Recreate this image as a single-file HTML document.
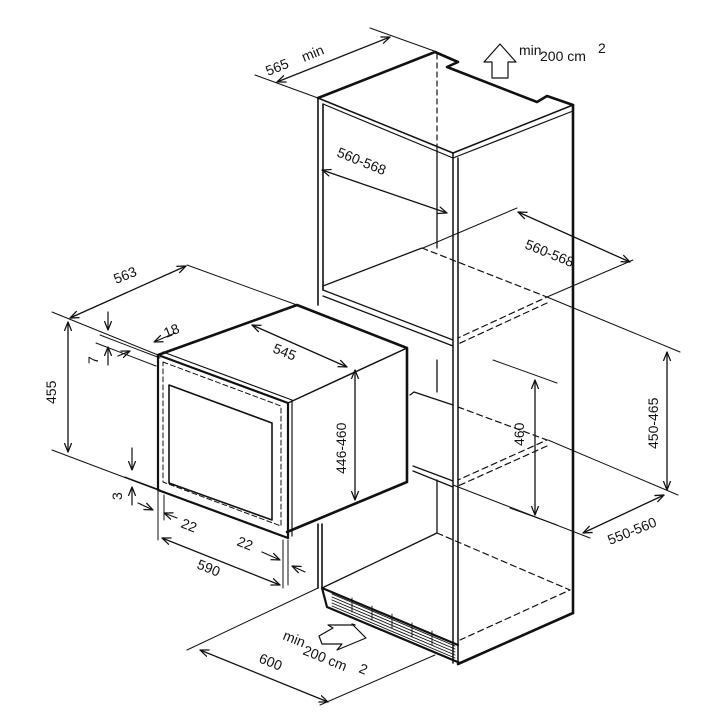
<!DOCTYPE html>
<html><head><meta charset="utf-8"><style>
html,body{margin:0;padding:0;background:#fff}
svg{display:block}
text{font-family:"Liberation Sans",sans-serif;font-size:14px;fill:#111}
</style></head><body>
<svg width="720" height="720" viewBox="0 0 720 720" xmlns="http://www.w3.org/2000/svg">
<defs>
<marker id="a" viewBox="0 0 10 10" refX="10" refY="5" markerWidth="9" markerHeight="9" orient="auto-start-reverse" markerUnits="userSpaceOnUse"><path d="M0,1 L10,5 L0,9" fill="none" stroke="#111" stroke-width="1.4"/></marker>
</defs>
<g fill="none" stroke="#111" stroke-linecap="round" stroke-linejoin="round">
<path d="M318,98 L435,52 L458,62 L447,67 L537,102 L547,96 L573,105" stroke-width="2.6"/>
<path d="M318,98 L453,153 L573,105" stroke-width="1.5"/>
<path d="M323,104 L453,158 L573,111" stroke-width="1.2"/>
<path d="M437,54 L437,150" stroke-width="1.2" stroke-dasharray="5,4"/>
<path d="M437,150 L437,248" stroke-width="1.3"/>
<path d="M318,98 L318,305 M323,104 L323,290" stroke-width="1.6"/>
<path d="M453,153 L453,663 M458,158 L458,663" stroke-width="1.5"/>
<path d="M573,105 L573,613" stroke-width="2.6"/>
<path d="M458,664 L573,613" stroke-width="2.6"/>
<path d="M323,286 L422,248" stroke-width="1.3"/>
<path d="M323,290 L453,340 M323,296 L453,346" stroke-width="1.3"/>
<path d="M422,248 L547,297 L458,338 M547,303 L458,344" stroke-width="1.2" stroke-dasharray="6,4"/>
<path d="M414,392 L453,405 M414,392 L410,395" stroke-width="1.3"/>
<path d="M458,407 L547,440 L458,480 M547,446 L458,486" stroke-width="1.2" stroke-dasharray="6,4"/>
<path d="M413,466 L453,481 M413,471 L453,487" stroke-width="1.3"/>
<path d="M437,360 L437,392 M437,480 L437,533" stroke-width="1.3"/>
<path d="M318,524 L318,588 M322,524 L322,588" stroke-width="1.6"/>
<path d="M322,588 L437,533" stroke-width="1.3"/>
<path d="M437,533 L570,590 L460,640" stroke-width="1.2" stroke-dasharray="6,4"/>
<path d="M322,588 L327,607 L460,663 M322,588 L458,645" stroke-width="2.2"/>
<path d="M332,594 L455,646 M332,597 L455,649 M332,600 L455,652 M332,603 L455,655 M332,606 L455,658" stroke-width="0.9"/>
<path d="M352,598 L352,612 M372,606 L372,620 M392,614 L392,628 M412,623 L412,637 M432,631 L432,645" stroke-width="0.9"/>
<path d="M158,355 L297,305 L407,348 L407,482 L287,532" stroke-width="2.6"/>
<path d="M288,403 L407,348" stroke-width="1.5"/>
<path d="M158,355 L288,403 L288,538 L158,490 Z" stroke-width="2.2"/>
<path d="M163,352 L292,400 L292,536" stroke-width="1.2"/>
<path d="M163,362 L281,406 L281,526 L163,482 Z" stroke-width="1" stroke-dasharray="5,3"/>
<path d="M169,385 L272,423 L272,520 L169,483 Z" stroke-width="1.6"/>
<g stroke-width="1">
<path d="M255,75 L318,98 M370,28 L437,52"/>
<path d="M277,82 L390,37" marker-start="url(#a)" marker-end="url(#a)" stroke-width="1.3"/>
<path d="M322,170 L447,213" marker-start="url(#a)" marker-end="url(#a)" stroke-width="1.3"/>
<path d="M423,248 L517,208 M547,297 L633,260"/>
<path d="M518,212 L630,262" marker-start="url(#a)" marker-end="url(#a)" stroke-width="1.3"/>
<path d="M547,297 L680,352 M548,440 L678,495 M453,485 L590,538"/>
<path d="M667,352 L667,490" marker-start="url(#a)" marker-end="url(#a)" stroke-width="1.3"/>
<path d="M583,533 L664,495" marker-start="url(#a)" marker-end="url(#a)" stroke-width="1.3"/>
<path d="M493,360 L557,383 M510,508 L557,525"/>
<path d="M535,380 L535,515" marker-start="url(#a)" marker-end="url(#a)" stroke-width="1.3"/>
<path d="M355,370 L355,500" marker-start="url(#a)" marker-end="url(#a)" stroke-width="1.3"/>
<path d="M252,325 L347,367" marker-start="url(#a)" marker-end="url(#a)" stroke-width="1.3"/>
<path d="M187,265 L297,305 M52,312 L158,355 M52,450 L158,490"/>
<path d="M70,318 L186,266" marker-start="url(#a)" marker-end="url(#a)" stroke-width="1.3"/>
<path d="M68,322 L68,452" marker-start="url(#a)" marker-end="url(#a)" stroke-width="1.3"/>
<path d="M108,312 L108,330" marker-end="url(#a)" stroke-width="1.2"/>
<path d="M108,365 L108,347" marker-end="url(#a)" stroke-width="1.2"/>
<path d="M100,335 L160,358 M96,343 L156,366"/>
<path d="M175,333 L154,342" marker-end="url(#a)" stroke-width="1.2"/>
<path d="M118,356 L130,351" marker-end="url(#a)" stroke-width="1.2"/>
<path d="M132,448 L132,470" marker-end="url(#a)" stroke-width="1.2"/>
<path d="M132,505 L132,487" marker-end="url(#a)" stroke-width="1.2"/>
<path d="M125,477 L160,490"/>
<path d="M138,503 L153,510" marker-end="url(#a)" stroke-width="1.2"/>
<path d="M177,518 L164,513" marker-end="url(#a)" stroke-width="1.2"/>
<path d="M158,490 L158,540 M164,495 L164,520 M283,540 L283,588 M288,540 L288,585"/>
<path d="M162,538 L280,585" marker-start="url(#a)" marker-end="url(#a)" stroke-width="1.3"/>
<path d="M262,552 L280,560" marker-end="url(#a)" stroke-width="1.2"/>
<path d="M305,572 L292,566" marker-end="url(#a)" stroke-width="1.2"/>
<path d="M187,650 L318,588 M320,705 L435,655"/>
<path d="M200,650 L328,702" marker-start="url(#a)" marker-end="url(#a)" stroke-width="1.3"/>
</g>
<path d="M492,78 L492,62 L484,62 L500,44 L516,62 L508,62 L508,78 Z" stroke-width="1.2"/>
<path d="M319,636 L333,628 L328,625 L355,625 L352,624 L366,638 L337,650 L342,644 L322,644 Z" stroke-width="1.2"/>
</g>
<text transform="translate(268,76) rotate(-22)" font-size="15">565</text>
<text transform="translate(304,62) rotate(-22)" font-size="9">min</text>
<text x="519" y="55" font-size="9">min</text>
<text x="540" y="61" font-size="15">200 cm</text>
<text x="598" y="53" font-size="9">2</text>
<text transform="translate(336,156) rotate(22)" font-size="14">560-568</text>
<text transform="translate(524,248) rotate(22)" font-size="15">560-568</text>
<text transform="translate(658,449) rotate(-90)" font-size="15">450-465</text>
<text transform="translate(610,545) rotate(-22)" font-size="15">550-560</text>
<text transform="translate(524,446) rotate(-90)" font-size="15">460</text>
<text transform="translate(346,474) rotate(-90)" font-size="15">446-460</text>
<text transform="translate(272,352) rotate(22)" font-size="15">545</text>
<text transform="translate(116,284) rotate(-22)" font-size="15">563</text>
<text transform="translate(56,404) rotate(-90)" font-size="15">455</text>
<text transform="translate(98,364) rotate(-90)" font-size="14">7</text>
<text transform="translate(166,338) rotate(-22)" font-size="14">18</text>
<text transform="translate(122,500) rotate(-90)" font-size="14">3</text>
<text transform="translate(180,527) rotate(22)" font-size="14">22</text>
<text transform="translate(236,545) rotate(22)" font-size="14">22</text>
<text transform="translate(196,568) rotate(22)" font-size="15">590</text>
<text transform="translate(258,662) rotate(22)" font-size="15">600</text>
<text transform="translate(282,639) rotate(22)" font-size="9">min</text>
<text transform="translate(302,654) rotate(22)" font-size="15">200 cm</text>
<text transform="translate(358,672) rotate(22)" font-size="10">2</text>
</svg>
</body></html>
